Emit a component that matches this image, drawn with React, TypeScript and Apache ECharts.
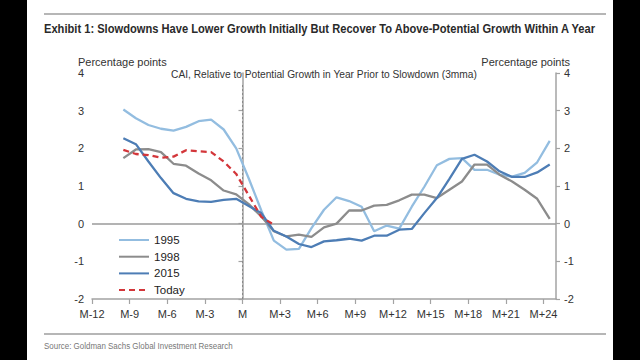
import React, { useEffect, useRef } from 'react';
import * as echarts from 'echarts';

// Month positions of the plotted points (relative to slowdown month M)
const months = [
  -9.5, -8.5, -7.5, -6.5, -5.5, -4.5, -3.5, -2.5, -1.5, -0.5,
  0.5, 1.5, 2.5, 3.5, 4.5, 5.5, 6.5, 7.5, 8.5, 9.5,
  10.5, 11.5, 12.5, 13.5, 14.5, 15.5, 16.5, 17.5, 18.5, 19.5,
  20.5, 21.5, 22.5, 23.5, 24.5,
];

const s1995 = [
  3.03, 2.8, 2.62, 2.52, 2.47, 2.57, 2.72, 2.76, 2.5, 2.0,
  1.2, 0.35, -0.45, -0.69, -0.67, -0.12, 0.37, 0.7, 0.6, 0.45,
  -0.2, -0.05, -0.13, 0.45, 0.98, 1.55, 1.72, 1.74, 1.43, 1.43,
  1.3, 1.25, 1.35, 1.63, 2.2,
];

const s1998 = [
  1.74, 1.97, 1.98, 1.9, 1.59, 1.54, 1.33, 1.15, 0.88, 0.78,
  0.52, 0.19, -0.2, -0.34, -0.29, -0.35, -0.1, 0.0, 0.35, 0.35,
  0.48, 0.5, 0.62, 0.77, 0.77, 0.68, 0.9, 1.12, 1.57, 1.57,
  1.3, 1.12, 0.9, 0.66, 0.13,
];

const s2015 = [
  2.27, 2.11, 1.65, 1.21, 0.81, 0.66, 0.59, 0.58, 0.63, 0.66,
  0.47, 0.28, -0.19, -0.34, -0.54, -0.62, -0.47, -0.44, -0.4, -0.45,
  -0.32, -0.32, -0.16, -0.14, 0.28, 0.68, 1.19, 1.72, 1.83, 1.65,
  1.39, 1.24, 1.24, 1.36, 1.57,
];

const sToday = [
  1.96, 1.85, 1.82, 1.75, 1.78, 1.95, 1.92, 1.9, 1.65, 1.32,
  0.75, 0.18, -0.03,
];

const seriesNames = ['1995', '1998', '2015', 'Today'];
const seriesColors = ['#93bde0', '#8c8c8c', '#4d7db5', '#d3363a'];

const xTicks = [-12, -9, -6, -3, 0, 3, 6, 9, 12, 15, 18, 21, 24];
const xTickLabels = ['M-12', 'M-9', 'M-6', 'M-3', 'M', 'M+3', 'M+6', 'M+9', 'M+12', 'M+15', 'M+18', 'M+21', 'M+24'];

const titleText = 'Exhibit 1: Slowdowns Have Lower Growth Initially But Recover To Above-Potential Growth Within A Year';
const subTitleText = 'CAI, Relative to Potential Growth in Year Prior to Slowdown (3mma)';
const unitText = 'Percentage points';
const sourceText = 'Source: Goldman Sachs Global Investment Research';

const FONT = '"Liberation Sans", Arial, sans-serif';
const AXIS_COLOR = '#a3a3a3';

function measure(text: string, font: string): number {
  const c = document.createElement('canvas').getContext('2d');
  if (!c) return text.length * 6;
  c.font = font;
  return c.measureText(text).width;
}

export default function App() {
  const ref = useRef<HTMLDivElement>(null);

  useEffect(() => {
    if (!ref.current) return;
    const chart = echarts.init(ref.current, null, { renderer: 'svg' });

    const pairs = (vals: number[]) => vals.map((v, i) => [months[i], v]);
    const all = [s1995, s1998, s2015, sToday];

    const titleFont = `bold 13px ${FONT}`;
    const titleScale = 553 / measure(titleText, titleFont);
    const sourceFont = `9.5px ${FONT}`;
    const sourceScale = 189 / measure(sourceText, sourceFont);

    const yAxisCommon = {
      type: 'value',
      min: -2,
      max: 4,
      interval: 1,
      axisLine: { show: true, lineStyle: { color: AXIS_COLOR, width: 1.5 } },
      axisTick: { show: true, length: 4, lineStyle: { color: AXIS_COLOR, width: 1.2 } },
      axisLabel: { color: '#333', fontSize: 11, fontFamily: FONT, margin: 8 },
      splitLine: { show: false },
    };

    const option: any = {
      animation: false,
      backgroundColor: '#ffffff',
      grid: { left: 92, right: 84, top: 73, bottom: 61, containLabel: false },
      xAxis: {
        type: 'value',
        min: -12,
        max: 25,
        interval: 3,
        axisLine: { show: true, onZero: false, lineStyle: { color: AXIS_COLOR, width: 1.5 } },
        axisTick: { show: true, length: 5, customValues: xTicks, lineStyle: { color: AXIS_COLOR, width: 1.2 } },
        axisLabel: {
          color: '#333',
          fontSize: 11,
          fontFamily: FONT,
          margin: 9,
          customValues: xTicks,
          formatter: (v: number) => {
            const i = xTicks.indexOf(v);
            return i >= 0 ? xTickLabels[i] : '';
          },
        },
        splitLine: { show: false },
      },
      yAxis: [
        { ...yAxisCommon, position: 'left' },
        { ...yAxisCommon, position: 'right' },
      ],
      legend: {
        data: seriesNames,
        orient: 'vertical',
        left: 113,
        top: 229,
        itemWidth: 30,
        itemHeight: 12,
        itemGap: 4.7,
        itemStyle: { opacity: 0 },
        textStyle: { color: '#222', fontSize: 11.5, fontFamily: FONT },
      },
      series: seriesNames.map((name, k) => ({
        name,
        type: 'line',
        data: pairs(all[k]),
        showSymbol: false,
        symbol: 'none',
        color: seriesColors[k],
        lineStyle: {
          color: seriesColors[k],
          width: 2.3,
          type: name === 'Today' ? [6, 4] : 'solid',
        },
        z: 3 + k,
        markLine:
          k === 0
            ? {
                silent: true,
                symbol: 'none',
                label: { show: false },
                z: 1,
                data: [
                  { yAxis: 0, lineStyle: { color: '#9a9a9a', width: 1.5, type: 'solid' } },
                  [
                    { coord: [0, -2], lineStyle: { color: '#8a8a8a', width: 1, type: [2, 2] } },
                    { coord: [0, 3.7] },
                  ],
                ],
              }
            : undefined,
      })),
      graphic: [
        { type: 'rect', shape: { x: 0, y: 0, width: 27, height: 360 }, style: { fill: '#000' } },
        { type: 'rect', shape: { x: 613, y: 0, width: 27, height: 360 }, style: { fill: '#000' } },
        { type: 'line', shape: { x1: 44, y1: 14, x2: 606, y2: 14 }, style: { stroke: '#9e9e9e', lineWidth: 1.5 } },
        { type: 'line', shape: { x1: 44, y1: 334, x2: 606, y2: 334 }, style: { stroke: '#9e9e9e', lineWidth: 1.5 } },
        {
          type: 'text',
          x: 44,
          y: 29,
          scaleX: titleScale,
          style: {
            text: titleText, x: 0, y: 0, fill: '#2a2a2a',
            font: titleFont, textVerticalAlign: 'middle',
          },
        },
        {
          type: 'text',
          style: {
            text: unitText, x: 78, y: 62, fill: '#333',
            font: `11px ${FONT}`, textVerticalAlign: 'middle',
          },
        },
        {
          type: 'text',
          style: {
            text: unitText, x: 570, y: 62, fill: '#333', textAlign: 'right',
            font: `11px ${FONT}`, textVerticalAlign: 'middle',
          },
        },
        {
          type: 'text',
          style: {
            text: subTitleText, x: 324, y: 74, fill: '#333', textAlign: 'center',
            font: `10.2px ${FONT}`, textVerticalAlign: 'middle',
          },
        },
        {
          type: 'text',
          x: 44,
          y: 346,
          scaleX: sourceScale,
          style: {
            text: sourceText, x: 0, y: 0, fill: '#777',
            font: sourceFont, textVerticalAlign: 'middle',
          },
        },
      ],
    };

    chart.setOption(option);
    return () => chart.dispose();
  }, []);

  return (
    <div
      ref={ref}
      style={{ position: 'fixed', left: 0, top: 0, width: 640, height: 360 }}
    />
  );
}
